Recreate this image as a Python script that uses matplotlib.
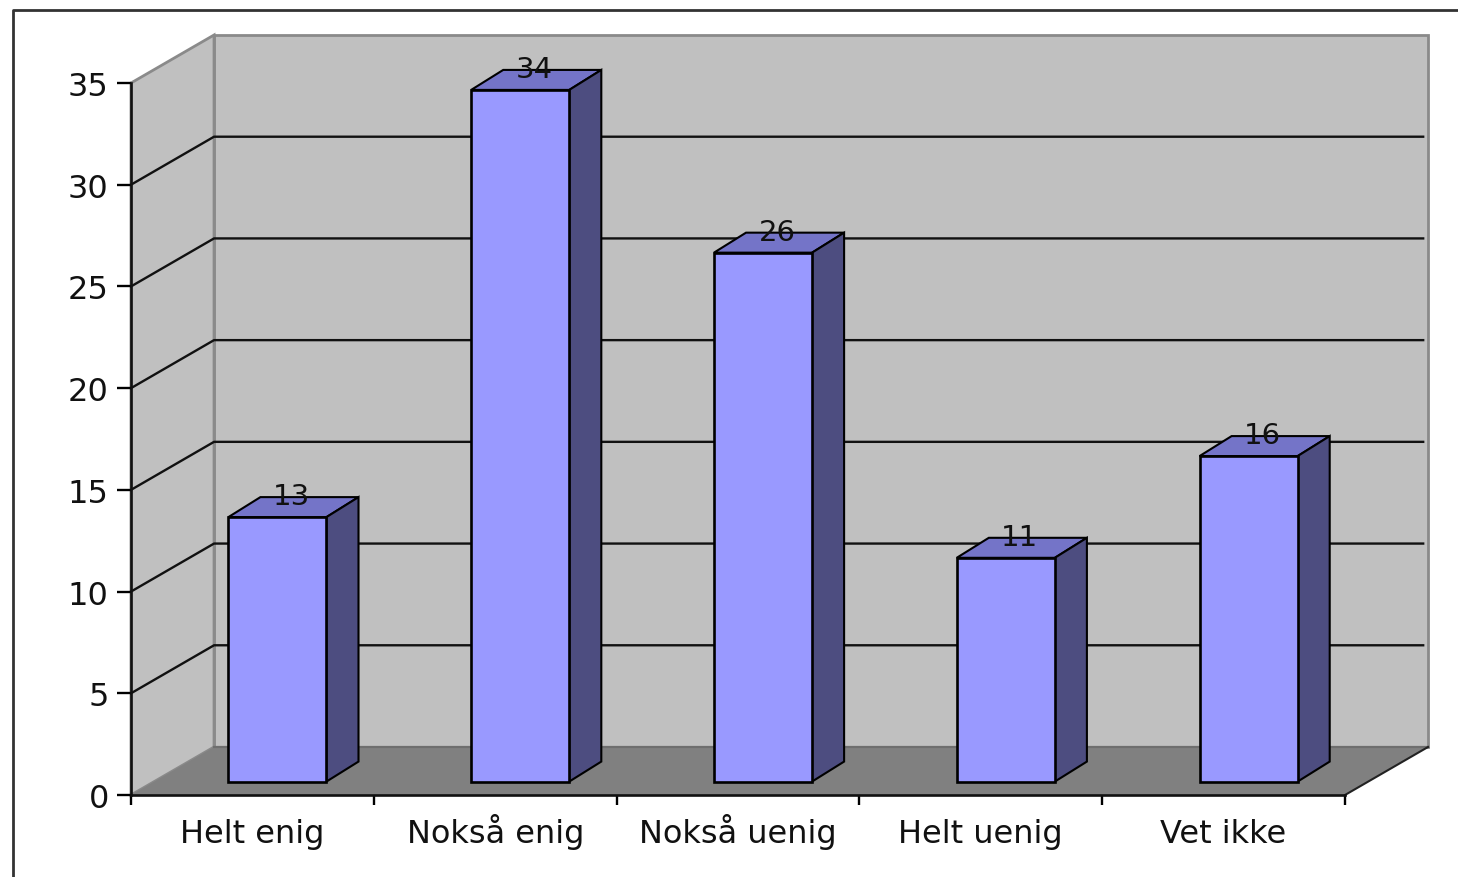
import matplotlib
matplotlib.use("Agg")
import matplotlib.pyplot as plt
from matplotlib.lines import Line2D
from matplotlib.patches import Polygon

categories = ["Helt enig", "Nokså enig", "Nokså uenig", "Helt uenig", "Vet ikke"]
values = [13, 34, 26, 11, 16]
y_ticks = [0, 5, 10, 15, 20, 25, 30, 35]

plt.rcParams["font.family"] = ["DejaVu Sans"]

fig = plt.figure(figsize=(14.58, 8.78), dpi=100, facecolor="white")
ax = fig.add_axes([131 / 1458, 1 - 796 / 878, 1214 / 1458, 712 / 878])
ax.patch.set_visible(False)
ax.set_xlim(0, len(categories))
ax.set_ylim(0, 35)

# depth of the fake 3d box, in data units
wall_dx, wall_dy = 0.342, 2.36
front_dx, front_dy = 0.103, 0.66
depth_dx, depth_dy = 0.132, 0.983
bar_width = 0.404
xmax, ymax = len(categories), 35


def poly(points, **kw):
    ax.add_patch(Polygon(points, closed=True, clip_on=False, **kw))


# walls and floor
poly([(wall_dx, wall_dy), (xmax + wall_dx, wall_dy), (xmax + wall_dx, ymax + wall_dy), (wall_dx, ymax + wall_dy)],
     facecolor="#c0c0c0", edgecolor="#8a8a8a", linewidth=2, zorder=1)
poly([(0, 0), (wall_dx, wall_dy), (wall_dx, ymax + wall_dy), (0, ymax)],
     facecolor="#c0c0c0", edgecolor="#8a8a8a", linewidth=2, zorder=1)
poly([(0, 0), (xmax, 0), (xmax + wall_dx, wall_dy), (wall_dx, wall_dy)],
     facecolor="#808080", edgecolor="none", zorder=1.2)
ax.plot([wall_dx, xmax + wall_dx], [wall_dy, wall_dy], color="#6e6e6e", lw=1.6, clip_on=False, zorder=1.25)
ax.plot([xmax, xmax + wall_dx], [0, wall_dy], color="#222222", lw=1.5, clip_on=False, zorder=1.3)

# gridlines go along the side wall then across the back
for t in y_ticks[1:-1]:
    ax.plot([0, wall_dx, xmax + wall_dx - 0.02], [t, t + wall_dy, t + wall_dy],
            color="#111111", lw=1.7, clip_on=False, zorder=1.5)

# bars
for i, v in enumerate(values):
    left = i + 0.5 - bar_width / 2 + front_dx
    right = left + bar_width
    base = front_dy
    top = v + front_dy
    ax.bar(left, v, width=bar_width, bottom=base, align="edge", color="#9999ff",
           edgecolor="black", linewidth=1.9, zorder=3, clip_on=False)
    poly([(left, top), (right, top), (right + depth_dx, top + depth_dy), (left + depth_dx, top + depth_dy)],
         facecolor="#7474c8", edgecolor="black", linewidth=1.5, zorder=2.9)
    poly([(right, base), (right + depth_dx, base + depth_dy), (right + depth_dx, top + depth_dy), (right, top)],
         facecolor="#4d4d80", edgecolor="black", linewidth=1.5, zorder=2.9)
    ax.text(left + bar_width / 2 + 0.058, top + 1.03, str(v), ha="center", va="center",
            fontsize=21, color="#111111", zorder=4, clip_on=False)

# axes
for side in ["top", "right"]:
    ax.spines[side].set_visible(False)
for side in ["left", "bottom"]:
    ax.spines[side].set_linewidth(1.9)
    ax.spines[side].set_color("#111111")

ax.set_yticks(y_ticks)
ax.tick_params(axis="y", length=10, width=1.7, pad=6, labelsize=23, labelcolor="#111111")
ax.set_xticks(range(len(categories) + 1))
ax.set_xticklabels([])
ax.tick_params(axis="x", which="major", length=7, width=1.7)
ax.set_xticks([i + 0.5 for i in range(len(categories))], minor=True)
ax.set_xticklabels(categories, minor=True)
ax.tick_params(axis="x", which="minor", length=0, pad=34, labelsize=23, labelcolor="#111111")
# keep the baselines level, the å is taller than the other letters
for lab in ax.get_xticklabels(minor=True):
    lab.set_verticalalignment("baseline")

# outer chart frame, runs off the image on the right and bottom
fig.add_artist(Line2D([13 / 1458, 13 / 1458, 1], [0, 1 - 11 / 878, 1 - 11 / 878], color="#333333", lw=2))

fig.savefig("out.png", dpi=100)
